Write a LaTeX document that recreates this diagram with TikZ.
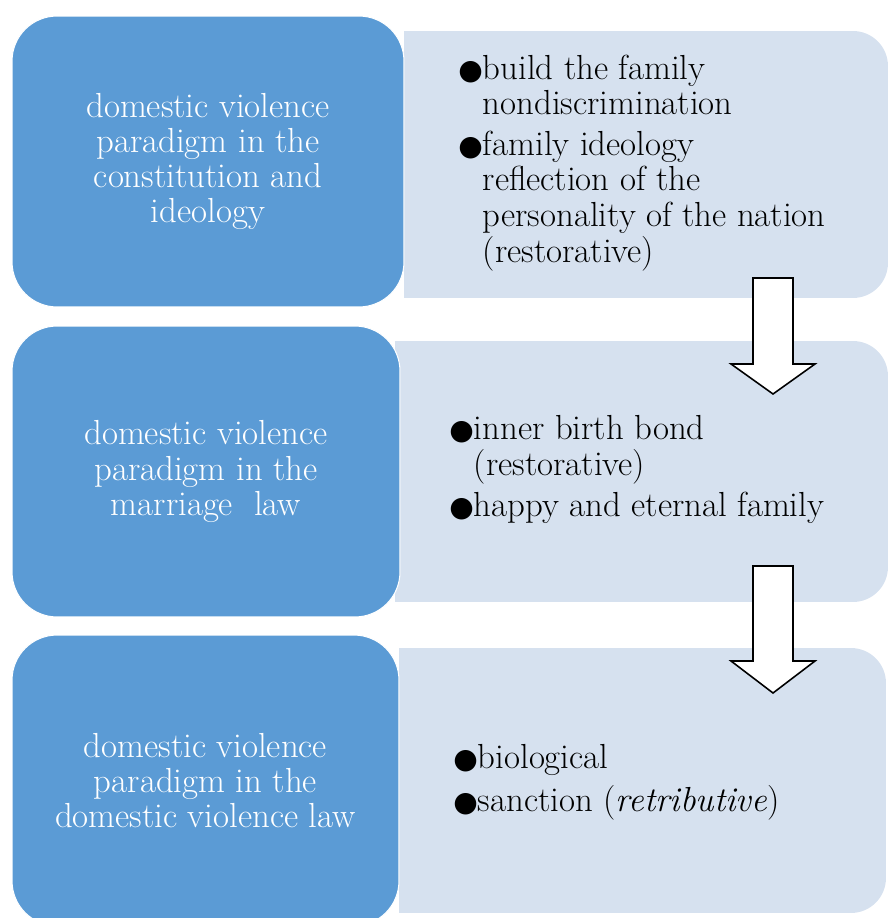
\documentclass[tikz,border=0pt]{standalone}
\usepackage{fontspec}
\newfontfamily\bulletfont{DejaVu Sans}
\definecolor{darkblue}{RGB}{91,155,213}
\definecolor{paleblue}{RGB}{214,225,239}
\newcommand{\bul}{{\bulletfont\fontsize{16}{20}\selectfont ●}}

\begin{document}
\begin{tikzpicture}[x=0.02cm, y=-0.02cm,
    darkbox/.style={fill=darkblue, draw=white, line width=0.6pt, rounded corners=0.9cm,
      inner sep=0pt, text=white, align=center, font=\fontsize{19.8}{20}\selectfont},
    palebox/.style={fill=paleblue, rounded corners=0.7cm, inner sep=0pt},
    itemtext/.style={anchor=west, inner sep=0pt, align=left, font=\fontsize{19.8}{20}\selectfont},
    blockarrow/.style={fill=white, draw=black, line width=0.9pt}]
    \useasboundingbox (0,0) rectangle (888,918);
    \clip (0,0) rectangle (888,918);

    % pale boxes (square on the left, round on the right)
    \node[palebox, minimum width=9.68cm, minimum height=5.34cm] (p1) at (646,164.5) {};
    \node[palebox, minimum width=9.86cm, minimum height=5.22cm] (p2) at (641.5,471.5) {};
    \node[palebox, minimum width=9.74cm, minimum height=5.30cm] (p3) at (642.5,780.5) {};
    \foreach \p in {p1,p2,p3}
        \fill[paleblue] (\p.south west) rectangle (\p.north);

    % blue boxes
    \node[darkbox, minimum width=7.84cm, minimum height=5.82cm] (d1) at (208,161.5)
        {domestic violence\\paradigm in the\\constitution and\\ideology};
    \node[darkbox, minimum width=7.76cm, minimum height=5.82cm] (d2) at (206,471.5)
        {domestic violence\\paradigm in the\\marriage\ \ law};
    \node[darkbox, minimum width=7.74cm, minimum height=5.82cm] (d3) at (205.5,780.5)
        {domestic violence\\paradigm in the\\domestic violence law};

    % items
    \node[itemtext] (t1) at (458,164) {%
        \begin{tabular}{@{}l@{}l@{}}
        \bul & build the family\\
             & nondiscrimination\\[3.5pt]
        \bul & family ideology\\
             & reflection of the\\
             & personality of the nation\\
             & (restorative)
        \end{tabular}};
    \node[itemtext] (t2) at (449,471) {%
        \begin{tabular}{@{}l@{}l@{}}
        \bul & inner birth bond\\
             & (restorative)\\[3.5pt]
        \bul & happy and eternal family
        \end{tabular}};
    \node[itemtext] (t3) at (453,783) {%
        \begin{tabular}{@{}l@{}l@{}}
        \bul & biological\\[3.5pt]
        \bul & sanction (\textit{retributive})
        \end{tabular}};

    % block arrows
    \draw[blockarrow] (753,278) -- (793,278) -- (793,364) -- (815,364) -- (773,394)
        -- (731,364) -- (753,364) -- cycle;
    \draw[blockarrow] (753,566) -- (793,566) -- (793,661) -- (815,661) -- (773,693)
        -- (731,661) -- (753,661) -- cycle;
\end{tikzpicture}
\end{document}
